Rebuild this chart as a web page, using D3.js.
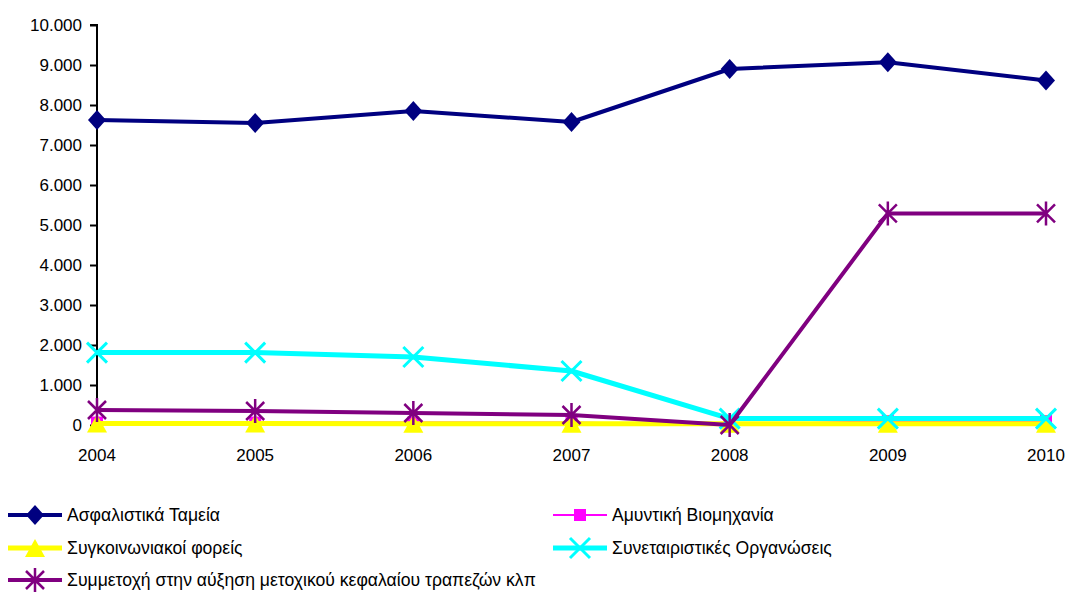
<!DOCTYPE html>
<html>
<head>
<meta charset="utf-8">
<script src="https://cdn.jsdelivr.net/npm/d3@7"></script>
<style>
  body { margin: 0; background: #fff; }
  text { font-family: 'Liberation Sans', Arial, sans-serif; fill: #000; }
</style>
</head>
<body>
<div id="chart"></div>
<script>
const years = ['2004', '2005', '2006', '2007', '2008', '2009', '2010']
const yTicks = [0, 1000, 2000, 3000, 4000, 5000, 6000, 7000, 8000, 9000, 10000]

const seriesNames = [
  'Ασφαλιστικά Ταμεία',
  'Αμυντική Βιομηχανία',
  'Συγκοινωνιακοί φορείς',
  'Συνεταιριστικές Οργανώσεις',
  'Συμμετοχή στην αύξηση μετοχικού κεφαλαίου τραπεζών κλπ'
]
const asfalistika = [7625, 7550, 7850, 7575, 8900, 9070, 8610]
const amyntiki = [60, 60, 60, 60, 0, 100, 100]
const sygkoinoniakoi = [40, 40, 30, 30, 30, 30, 30]
const synetairistikes = [1810, 1810, 1700, 1350, 160, 160, 160]
const symmetoxi = [375, 350, 300, 250, 0, 5290, 5290]

const colors = ['#000080', '#ff00ff', '#ffff00', '#00ffff', '#800080']
const symbols = ['diamond', 'square', 'triangle', 'x', 'star']
const widths = [4, 2, 5, 5, 4]

const series = [asfalistika, amyntiki, sygkoinoniakoi, synetairistikes, symmetoxi].map((values, i) => ({
  name: seriesNames[i],
  values: values,
  color: colors[i],
  symbol: symbols[i],
  width: widths[i]
}))

const width = 1067
const height = 592
const margin = { top: 25, left: 97, right: 21, bottom: 167 }

const svg = d3
  .select('#chart')
  .append('svg')
  .attr('width', width)
  .attr('height', height)

const xPositionScale = d3.scalePoint().domain(years).range([margin.left, width - margin.right])
const yPositionScale = d3.scaleLinear().domain([0, 10000]).range([height - margin.bottom, margin.top])

const fmt = d => (d === 0 ? '0' : d3.format(',')(d).replace(/,/g, '.'))

// y axis
const yAxis = d3.axisLeft(yPositionScale).tickValues(yTicks).tickSize(7).tickPadding(8).tickFormat(fmt)
svg
  .append('g')
  .attr('transform', `translate(${margin.left},0)`)
  .call(yAxis)
  .call(g => g.select('.domain').attr('stroke', '#000').attr('stroke-width', 2).attr('d', `M-7,${yPositionScale(10000)}H0V${yPositionScale(0)}`))
  .call(g => g.selectAll('.tick line').attr('stroke', '#000').attr('stroke-width', 2))
  .call(g => g.selectAll('.tick text').style('font-size', '17px').attr('font-family', null))

// x labels
svg
  .selectAll('.x-label')
  .data(years)
  .enter()
  .append('text')
  .attr('class', 'x-label')
  .attr('x', d => xPositionScale(d))
  .attr('y', 461)
  .attr('text-anchor', 'middle')
  .style('font-size', '17px')
  .text(d => d)

function drawMarker(g, s, x, y) {
  const c = s.color
  if (s.symbol === 'diamond') {
    g.append('path').attr('d', `M${x},${y - 10}L${x + 9},${y}L${x},${y + 10}L${x - 9},${y}Z`).attr('fill', c)
  } else if (s.symbol === 'square') {
    g.append('rect').attr('x', x - 6).attr('y', y - 6).attr('width', 12).attr('height', 12).attr('fill', c)
  } else if (s.symbol === 'triangle') {
    g.append('path').attr('d', `M${x},${y - 9}L${x + 10},${y + 9}L${x - 10},${y + 9}Z`).attr('fill', c)
  } else if (s.symbol === 'x') {
    g.append('path')
      .attr('d', `M${x - 10},${y - 10}L${x + 10},${y + 10}M${x - 10},${y + 10}L${x + 10},${y - 10}`)
      .attr('stroke', c)
      .attr('stroke-width', 3)
  } else if (s.symbol === 'star') {
    g.append('path')
      .attr('d', `M${x - 9},${y - 9}L${x + 9},${y + 9}M${x - 9},${y + 9}L${x + 9},${y - 9}M${x},${y - 12}V${y + 12}`)
      .attr('stroke', c)
      .attr('stroke-width', 2.5)
  }
}

const line = d3
  .line()
  .x((d, i) => xPositionScale(years[i]))
  .y(d => yPositionScale(d))

series.forEach(s => {
  const g = svg.append('g')
  g.append('path')
    .attr('d', line(s.values))
    .attr('fill', 'none')
    .attr('stroke', s.color)
    .attr('stroke-width', s.width)
    .attr('stroke-linejoin', 'round')
  s.values.forEach((v, i) => drawMarker(g, s, xPositionScale(years[i]), yPositionScale(v)))
})

// legend
const legendPos = [
  [8, 515], [553, 515],
  [8, 548], [553, 548],
  [8, 580]
]
series.forEach((s, i) => {
  const [lx, ly] = legendPos[i]
  const g = svg.append('g')
  g.append('line')
    .attr('x1', lx).attr('x2', lx + 54)
    .attr('y1', ly).attr('y2', ly)
    .attr('stroke', s.color)
    .attr('stroke-width', s.width)
  drawMarker(g, s, lx + 27, ly)
  g.append('text')
    .attr('x', lx + 59)
    .attr('y', ly)
    .attr('dy', '0.36em')
    .style('font-size', '17.6px')
    .text(s.name)
})
</script>
</body>
</html>
